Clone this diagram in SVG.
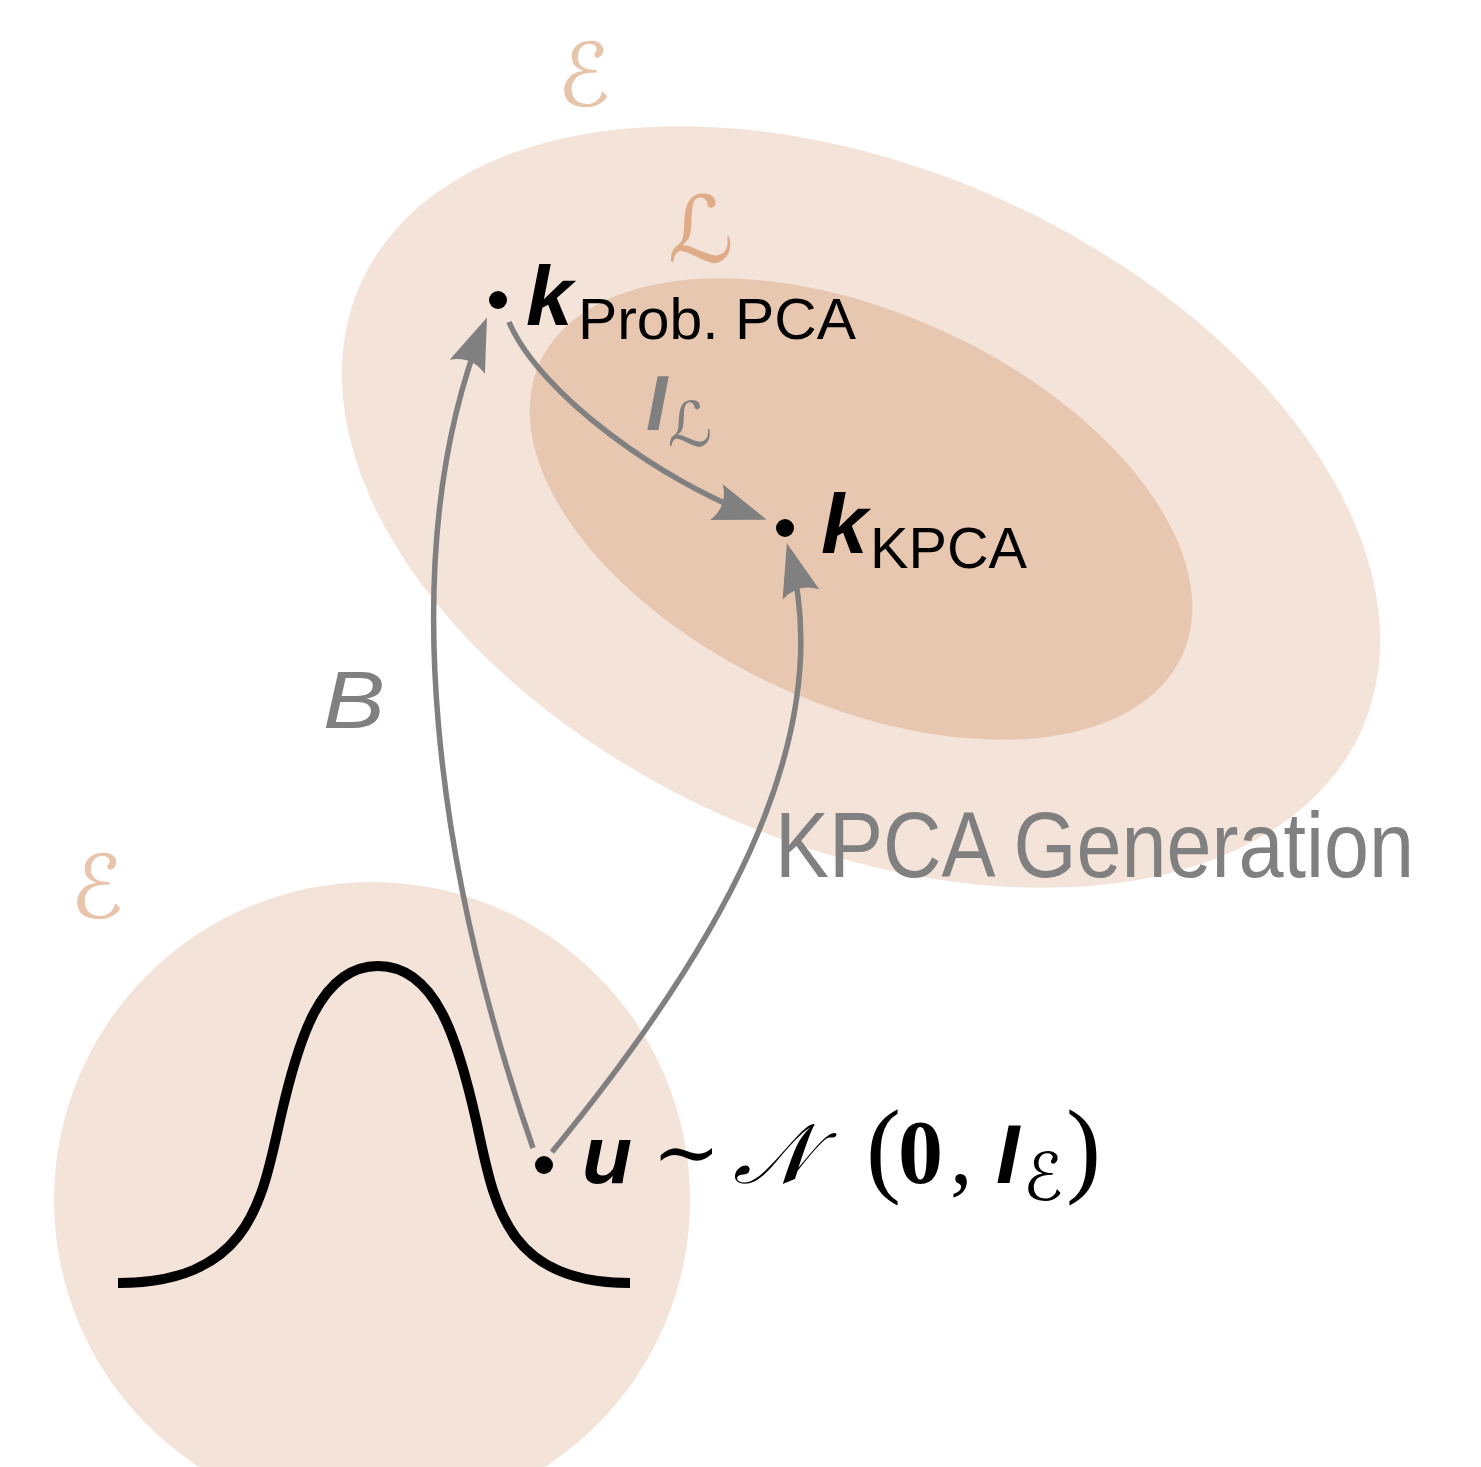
<svg xmlns="http://www.w3.org/2000/svg" width="1481" height="1467" viewBox="0 0 1481 1467">
<style>
.light{fill:#f3e3d8}
.mid{fill:#e8c7b1}
.conn{fill:none;stroke:#808080;stroke-width:5.5}
.dot{fill:#000}
.bi{font-family:"Liberation Sans","DejaVu Sans",sans-serif;font-weight:bold;font-style:italic}
.sans{font-family:"Liberation Sans","DejaVu Sans",sans-serif}
.serif{font-family:"Liberation Serif","DejaVu Serif",serif}
.script{font-family:"DejaVu Serif","DejaVu Sans",serif;font-style:italic}
.gray{fill:#808080}
</style>
<defs>
<marker id="arr" markerUnits="userSpaceOnUse" markerWidth="70" markerHeight="50" viewBox="-50 -25 70 50" refX="0" refY="0" orient="auto">
<path d="M8,0 L-45,-19 Q-33,0 -45,19 Z" fill="#808080"/>
</marker>
</defs>
<rect width="1481" height="1467" fill="#fff"/>
<g id="space-E-outer">
<ellipse class="light" cx="861" cy="507" rx="548" ry="338" transform="rotate(24 861 507)"/>
<text class="script" x="584" y="106" font-size="88" text-anchor="middle" fill="#e8c4aa">ℰ</text>
</g>
<g id="space-L">
<ellipse class="mid" cx="861" cy="509" rx="353" ry="196" transform="rotate(24.5 861 509)"/>
<text class="script" x="701" y="262" font-size="92" text-anchor="middle" fill="#e0ac87">ℒ</text>
</g>
<g id="space-E-base">
<circle class="light" cx="372" cy="1200" r="318"/>
<text class="script" x="97" y="918" font-size="88" text-anchor="middle" fill="#e8c4aa">ℰ</text>
</g>
<g id="gaussian">
<path d="M118,1283 C250,1283 262,1200 280,1120 C298,1040 320,966 378,966 C436,966 458,1040 476,1120 C494,1200 502,1283 630,1283" fill="none" stroke="#000" stroke-width="10"/>
</g>
<g id="connectors">
<path class="conn" d="M533,1148 C440,880 390,560 484,325" marker-end="url(#arr)"/>
<path class="conn" d="M552,1152 C710,960 842,744 789,551" marker-end="url(#arr)"/>
<path class="conn" d="M509,322 C540,395 665,484 759,517" marker-end="url(#arr)"/>
<text class="sans gray" x="323" y="728" font-size="81" font-style="italic" textLength="62" lengthAdjust="spacingAndGlyphs">B</text>
<text class="bi gray" x="646" y="430" font-size="77">I</text>
<text class="script gray" x="690" y="446" font-size="62" text-anchor="middle">ℒ</text>
<text class="sans gray" transform="translate(775 877) scale(0.88 1)" font-size="92">KPCA Generation</text>
</g>
<g id="node-kprob">
<circle class="dot" cx="498" cy="300" r="9"/>
<text class="bi" x="526" y="325" font-size="84">k</text>
<text class="sans" x="578" y="339" font-size="58" textLength="278" lengthAdjust="spacingAndGlyphs">Prob. PCA</text>
</g>
<g id="node-kkpca">
<circle class="dot" cx="785" cy="528" r="9"/>
<text class="bi" x="821" y="553" font-size="84">k</text>
<text class="sans" x="870" y="568" font-size="58" textLength="157" lengthAdjust="spacingAndGlyphs">KPCA</text>
</g>
<g id="node-u">
<circle class="dot" cx="544" cy="1165" r="9"/>
<text class="bi" x="582" y="1183" font-size="82">u</text>
<text class="serif" x="652" y="1180" font-size="82">∼</text>
<text class="script" x="733" y="1183" font-size="84">𝒩</text>
<text class="serif" x="866" y="1183" font-size="105">(</text>
<text class="serif" x="898" y="1183" font-size="90" font-weight="bold">0</text>
<text class="serif" x="950" y="1183" font-size="90">,</text>
<text class="bi" x="996" y="1183" font-size="84">I</text>
<text class="script" x="1043" y="1200" font-size="66" text-anchor="middle">ℰ</text>
<text class="serif" x="1066" y="1183" font-size="105">)</text>
</g>
</svg>
